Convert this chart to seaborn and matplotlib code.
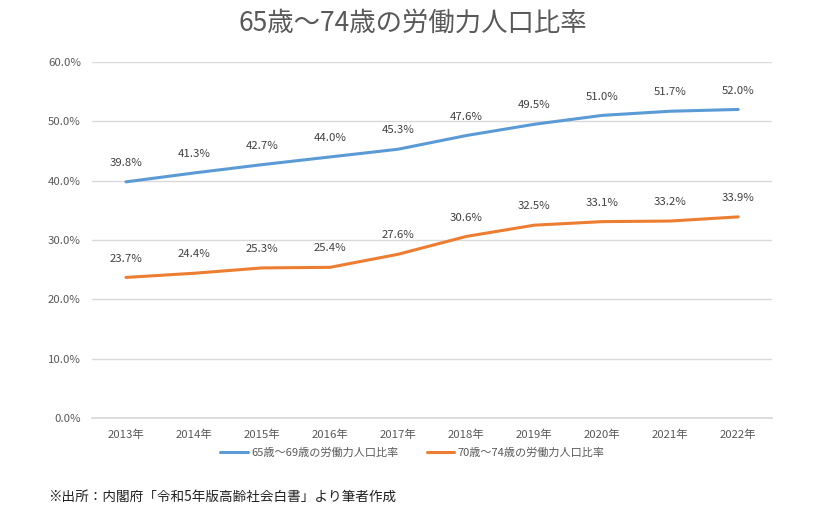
import matplotlib.pyplot as plt
import seaborn as sns
import pandas as pd

years = ['2013年', '2014年', '2015年', '2016年', '2017年',
         '2018年', '2019年', '2020年', '2021年', '2022年']
rate_65_69 = [39.8, 41.3, 42.7, 44.0, 45.3, 47.6, 49.5, 51.0, 51.7, 52.0]
rate_70_74 = [23.7, 24.4, 25.3, 25.4, 27.6, 30.6, 32.5, 33.1, 33.2, 33.9]
series_names = ['65歳～69歳の労働力人口比率', '70歳～74歳の労働力人口比率']

sns.set_theme(style='white')
plt.rcParams['font.family'] = ['Noto Sans CJK JP', 'DejaVu Sans']

df = pd.DataFrame({
    '年': years * 2,
    '比率': rate_65_69 + rate_70_74,
    '系列': [series_names[0]] * len(years) + [series_names[1]] * len(years),
})
df['x'] = list(range(len(years))) * 2

fig = plt.figure(figsize=(8.25, 5.08), dpi=100)
ax = fig.add_axes([0.1115, 0.177, 0.8245, 0.701])

palette = {series_names[0]: '#5B9BD5', series_names[1]: '#ED7D31'}
sns.lineplot(data=df, x='x', y='比率', hue='系列', palette=palette,
             linewidth=2.2, ax=ax, legend=False)

# データラベル
for vals, name in [(rate_65_69, series_names[0]), (rate_70_74, series_names[1])]:
    for i, v in enumerate(vals):
        ax.annotate(f'{v:.1f}%', (i, v), xytext=(0, 10), textcoords='offset points',
                    ha='center', va='bottom', fontsize=8.2, color='#404040')

ax.set_xlim(-0.5, len(years) - 0.5)
ax.set_ylim(0, 60)
ax.set_yticks(range(0, 61, 10))
ax.set_yticklabels([f'{t:.1f}%' for t in range(0, 61, 10)], fontsize=8.2, color='#595959')
ax.set_xticks(range(len(years)))
ax.set_xticklabels(years, fontsize=8.2, color='#595959')
ax.tick_params(axis='both', length=0, pad=8)
ax.yaxis.grid(True, color='#D9D9D9', linewidth=1)
ax.set_xlabel('')
ax.set_ylabel('')
for s in ['top', 'right', 'left']:
    ax.spines[s].set_visible(False)
ax.spines['bottom'].set_color('#D9D9D9')

# 凡例
handles = [plt.Line2D([0], [0], color=palette[n], linewidth=2.2) for n in series_names]
fig.legend(handles, series_names, loc='center', bbox_to_anchor=(0.5, 0.108), ncol=2,
           frameon=False, fontsize=8, handlelength=2.5, handletextpad=0.3,
           columnspacing=2.5, labelcolor='#595959')

fig.text(0.5, 0.955, '65歳～74歳の労働力人口比率', ha='center', va='center',
         fontsize=19, color='#595959')
fig.text(0.058, 0.023, '※出所：内閣府「令和5年版高齢社会白書」より筆者作成',
         ha='left', va='center', fontsize=9.8, color='#222222')

fig.savefig('out.png', dpi=100)
